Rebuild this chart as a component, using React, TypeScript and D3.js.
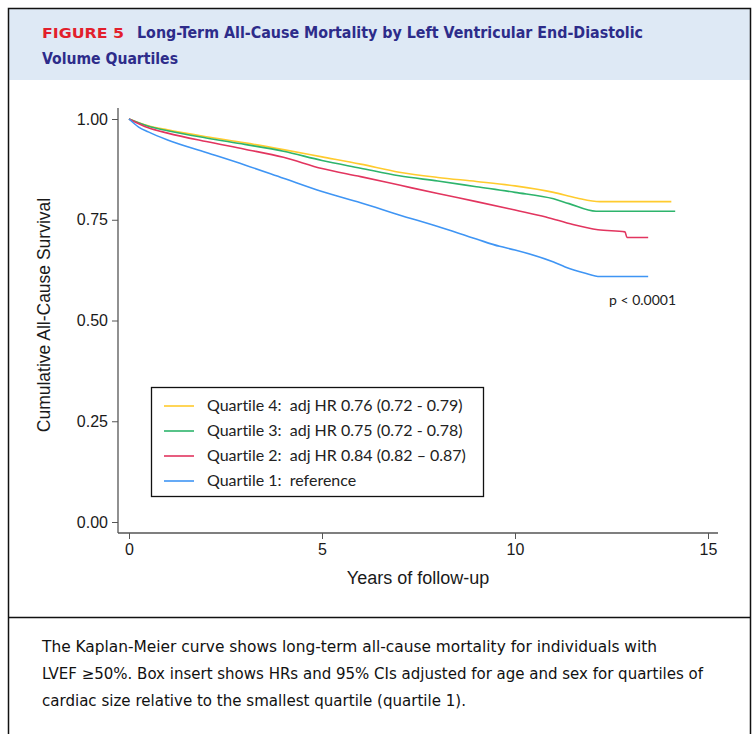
import React, { useEffect, useRef } from 'react';
import * as d3 from 'd3';

// years of follow-up and survival
const q4Years = [0, 0.5, 1, 2, 3, 4, 5, 6, 7, 8, 9, 10, 11, 11.6, 12.2, 14.05];
const q4Surv = [1, 0.983, 0.973, 0.956, 0.941, 0.924, 0.906, 0.888, 0.868, 0.855, 0.845, 0.834, 0.818, 0.804, 0.795, 0.795];

const q3Years = [0, 0.5, 1, 2, 3, 4, 5, 6, 7, 8, 9, 10, 11, 11.4, 12.1, 14.15];
const q3Surv = [1, 0.982, 0.971, 0.953, 0.937, 0.92, 0.897, 0.878, 0.859, 0.846, 0.832, 0.818, 0.802, 0.79, 0.771, 0.771];

const q2Years = [0, 0.5, 1, 2, 3, 4, 5, 6, 7, 8, 9, 10, 10.8, 11.5, 12.15, 12.85, 12.9, 13.45];
const q2Surv = [1, 0.978, 0.965, 0.944, 0.925, 0.905, 0.877, 0.857, 0.836, 0.815, 0.795, 0.774, 0.757, 0.738, 0.725, 0.72, 0.706, 0.706];

const q1Years = [0, 0.25, 0.5, 1, 2, 3, 4, 5, 6, 7, 8, 9, 9.6, 10, 11, 11.3, 11.8, 12.2, 13.45];
const q1Surv = [1, 0.98, 0.968, 0.948, 0.917, 0.886, 0.853, 0.82, 0.792, 0.762, 0.733, 0.702, 0.684, 0.675, 0.645, 0.633, 0.618, 0.609, 0.609];

const legendLabels = [
  'Quartile 4:  adj HR 0.76 (0.72 - 0.79)',
  'Quartile 3:  adj HR 0.75 (0.72 - 0.78)',
  'Quartile 2:  adj HR 0.84 (0.82 \u2013 0.87)',
  'Quartile 1:  reference',
];
const xTicks = [0, 5, 10, 15];
const yTicks = [0, 0.25, 0.5, 0.75, 1];

const captionLines = [
  'The Kaplan-Meier curve shows long-term all-cause mortality for individuals with',
  'LVEF \u226550%. Box insert shows HRs and 95% CIs adjusted for age and sex for quartiles of',
  'cardiac size relative to the smallest quartile (quartile 1).',
];

const W = 755;
const H = 734;

const App = () => {
  const ref = useRef<SVGSVGElement>(null);

  useEffect(() => {
    document.body.style.margin = '0';
    const svg = d3.select(ref.current);
    svg.selectAll('*').remove();

    const series = [
      { years: q4Years, surv: q4Surv, color: '#FFCB2E', label: legendLabels[0] },
      { years: q3Years, surv: q3Surv, color: '#2DB46C', label: legendLabels[1] },
      { years: q2Years, surv: q2Surv, color: '#E2355F', label: legendLabels[2] },
      { years: q1Years, surv: q1Surv, color: '#3F95F4', label: legendLabels[3] },
    ];

    // frame + header
    svg.append('rect').attr('x', 0).attr('y', 0).attr('width', W).attr('height', H).attr('fill', '#fff');
    svg.append('rect').attr('x', 8).attr('y', 8).attr('width', 742).attr('height', 72).attr('fill', '#DEE9F5');
    svg.append('path')
      .attr('d', `M8.5,${H} V8.5 H750.5 V${H}`)
      .attr('fill', 'none')
      .attr('stroke', '#111')
      .attr('stroke-width', 1.5);
    svg.append('line')
      .attr('x1', 8).attr('x2', 751).attr('y1', 617.5).attr('y2', 617.5)
      .attr('stroke', '#111').attr('stroke-width', 1.5);

    const head = svg.append('g').style('font-family', '"DejaVu Sans Condensed", "DejaVu Sans", sans-serif').style('font-weight', 'bold');
    head.append('text')
      .attr('x', 42).attr('y', 38)
      .attr('fill', '#E21F2C')
      .style('font-size', '14px')
      .attr('textLength', 82).attr('lengthAdjust', 'spacingAndGlyphs')
      .text('FIGURE 5');
    head.append('text')
      .attr('x', 137).attr('y', 38)
      .attr('fill', '#2D2C8A')
      .style('font-size', '15px')
      .attr('textLength', 506).attr('lengthAdjust', 'spacingAndGlyphs')
      .text('Long-Term All-Cause Mortality by Left Ventricular End-Diastolic');
    head.append('text')
      .attr('x', 42).attr('y', 64)
      .attr('fill', '#2D2C8A')
      .style('font-size', '15px')
      .attr('textLength', 136).attr('lengthAdjust', 'spacingAndGlyphs')
      .text('Volume Quartiles');

    // chart
    const x = d3.scaleLinear().domain([0, 15]).range([129, 708]);
    const y = d3.scaleLinear().domain([0, 1]).range([522, 119]);
    const axisColor = '#555';
    const axisFont = '"Liberation Sans", Arial, sans-serif';

    const chart = svg.append('g');

    chart.append('line')
      .attr('x1', 118).attr('x2', 118).attr('y1', y(1) - 11).attr('y2', y(0) + 11)
      .attr('stroke', axisColor).attr('stroke-width', 1.3);
    chart.append('line')
      .attr('x1', 118).attr('x2', x(15) + 10).attr('y1', y(0) + 11).attr('y2', y(0) + 11)
      .attr('stroke', axisColor).attr('stroke-width', 1.3);

    const yAxis = chart.append('g')
      .attr('transform', 'translate(118,0)')
      .call(d3.axisLeft(y).tickValues(yTicks).tickFormat(d3.format('.2f')).tickSize(6).tickPadding(4));
    yAxis.select('.domain').remove();
    yAxis.selectAll('line').attr('stroke', axisColor);
    yAxis.selectAll('text').attr('fill', '#1a1a1a').style('font-size', '16px').style('font-family', axisFont);

    const xAxis = chart.append('g')
      .attr('transform', `translate(0,${y(0) + 11})`)
      .call(d3.axisBottom(x).tickValues(xTicks).tickFormat(d3.format('d')).tickSize(6).tickPadding(5));
    xAxis.select('.domain').remove();
    xAxis.selectAll('line').attr('stroke', axisColor);
    xAxis.selectAll('text').attr('fill', '#1a1a1a').style('font-size', '16px').style('font-family', axisFont);

    chart.append('text')
      .attr('transform', `translate(50,315) rotate(-90)`)
      .attr('text-anchor', 'middle')
      .attr('fill', '#1a1a1a')
      .style('font-size', '17.5px')
      .style('font-family', axisFont)
      .text('Cumulative All-Cause Survival');

    chart.append('text')
      .attr('x', 418).attr('y', 584)
      .attr('text-anchor', 'middle')
      .attr('fill', '#1a1a1a')
      .style('font-size', '18px')
      .style('font-family', axisFont)
      .text('Years of follow-up');

    const line = d3.line<[number, number]>()
      .x(d => x(d[0]))
      .y(d => y(d[1]))
      .curve(d3.curveMonotoneX);

    series.forEach(s => {
      const pts = s.years.map((t, i) => [t, s.surv[i]] as [number, number]);
      chart.append('path')
        .datum(pts)
        .attr('d', line)
        .attr('fill', 'none')
        .attr('stroke', s.color)
        .attr('stroke-width', 1.6)
        .attr('stroke-linejoin', 'round');
    });

    const labelFont = 'Lato, "Open Sans", sans-serif';
    chart.append('text')
      .attr('x', 609).attr('y', 305)
      .attr('fill', '#222')
      .style('font-size', '14px')
      .style('font-family', labelFont)
      .text('p < 0.0001');

    // legend box
    const lg = chart.append('g').attr('transform', 'translate(151,387)');
    lg.append('rect')
      .attr('x', 0.5).attr('y', 0.5).attr('width', 332).attr('height', 109)
      .attr('fill', '#fff').attr('stroke', '#111').attr('stroke-width', 1.3);
    series.forEach((s, i) => {
      const ry = 19 + i * 25;
      lg.append('line')
        .attr('x1', 13).attr('x2', 43).attr('y1', ry).attr('y2', ry)
        .attr('stroke', s.color).attr('stroke-width', 1.6);
      lg.append('text')
        .attr('x', 56).attr('y', ry + 5)
        .attr('fill', '#222')
        .style('font-size', '16px')
        .style('font-family', labelFont)
        .style('font-variant-ligatures', 'none')
        .style('white-space', 'pre')
        .text(s.label);
    });

    // caption
    const cap = svg.append('g')
      .style('font-family', '"DejaVu Sans Condensed", "DejaVu Sans", sans-serif')
      .style('font-size', '15px')
      .attr('fill', '#111');
    const capWidths = [615, 661, 424];
    captionLines.forEach((c, i) => {
      cap.append('text')
        .attr('x', 42).attr('y', 652 + i * 27)
        .attr('textLength', capWidths[i]).attr('lengthAdjust', 'spacingAndGlyphs')
        .text(c);
    });
  }, []);

  return <svg ref={ref} width={W} height={H} style={{ display: 'block' }}></svg>;
};

export default App;
